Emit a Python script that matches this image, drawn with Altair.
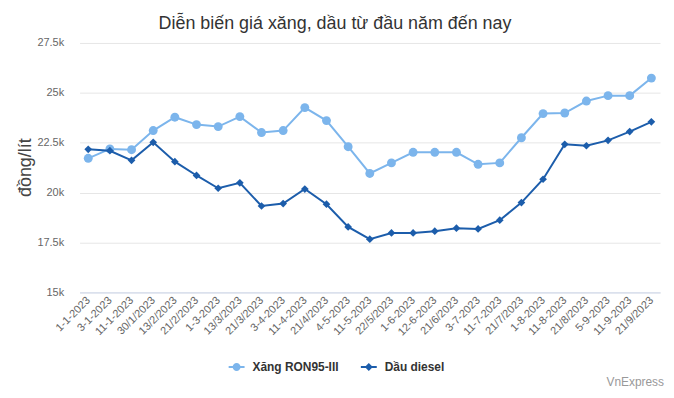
import altair as alt
import pandas as pd

dates = ["1-1-2023", "3-1-2023", "11-1-2023", "30/1/2023", "13/2/2023", "21/2/2023",
         "1-3-2023", "13/3/2023", "21/3/2023", "3-4-2023", "11-4-2023", "21/4/2023",
         "4-5-2023", "11-5-2023", "22/5/2023", "1-6-2023", "12-6-2023", "21/6/2023",
         "3-7-2023", "11-7-2023", "21/7/2023", "1-8-2023", "11-8-2023", "21/8/2023",
         "5-9-2023", "11-9-2023", "21/9/2023"]
ron95 = [21720, 22190, 22150, 23110, 23780, 23410, 23310, 23810, 23010, 23110, 24260, 23610,
         22300, 20960, 21490, 22020, 22020, 22020, 21420, 21490, 22750, 23960, 23990, 24590,
         24860, 24860, 25740]
diesel = [22170, 22100, 21620, 22520, 21550, 20860, 20220, 20490, 19330, 19450, 20180, 19420,
          18280, 17670, 17980, 17980, 18070, 18220, 18180, 18620, 19500, 20670, 22420, 22350,
          22620, 23060, 23550]
series_names = ["Xăng RON95-III", "Dầu diesel"]
series_colors = ["#7cb5ec", "#1c5dab"]
y_ticks = [15000, 17500, 20000, 22500, 25000, 27500]
title_text = "Diễn biến giá xăng, dầu từ đầu năm đến nay"
credit_text = "VnExpress"

rows = []
for d, a, b in zip(dates, ron95, diesel):
    rows.append({"date": d, "series": series_names[0], "price": a})
    rows.append({"date": d, "series": series_names[1], "price": b})
df = pd.DataFrame(rows)

FONT = "Liberation Sans"

x_enc = alt.X("date:N", sort=dates, scale=alt.Scale(padding=0.4),
              axis=alt.Axis(title=None, labelAngle=-45, labelAlign="right", labelBaseline="middle",
                            labelFontSize=11, labelColor="#666666", labelPadding=6,
                            ticks=False, domainColor="#ccd6eb", grid=False, labelFont=FONT))
y_enc = alt.Y("price:Q", scale=alt.Scale(domain=[15000, 27500], nice=False),
              axis=alt.Axis(values=y_ticks, labelExpr="datum.value/1000 + 'k'",
                            title="đồng/lít", titleFontSize=18, titleFontWeight="normal",
                            titleColor="#444444", titleFont=FONT, titleAngle=-90,
                            titleX=-54, titleY=125, titleAlign="center", titleBaseline="middle",
                            labelFontSize=11, labelColor="#666666", labelPadding=16, labelFont=FONT,
                            ticks=False, domain=False, gridColor="#e6e6e6"))

base = alt.Chart(df)
layers = []
shapes = ["circle", "diamond"]
sizes = [80, 60]
for name, col, shp, sz in zip(series_names, series_colors, shapes, sizes):
    sub = base.transform_filter(alt.datum.series == name)
    layers.append(sub.mark_line(color=col, strokeWidth=2).encode(x=x_enc, y=y_enc))
    layers.append(sub.mark_point(color=col, filled=True, opacity=1, shape=shp, size=sz)
                  .encode(x=x_enc, y=y_enc))

circle_path = "M-2,-0.25L2,-0.25L2,0.25L-2,0.25Z M-1,0A1,1,0,1,1,1,0A1,1,0,1,1,-1,0Z"
diamond_path = "M-2,-0.25L2,-0.25L2,0.25L-2,0.25Z M0,-1L1,0L0,1L-1,0Z"
leg = dict(title=None, orient="none", legendX=152, legendY=320,
           direction="horizontal", symbolOpacity=1, symbolStrokeWidth=0,
           labelFontSize=12, labelFontWeight="bold", labelColor="#333333",
           labelFont=FONT, labelOffset=10, columnPadding=22, symbolSize=64)
legend_layer = base.mark_point(filled=True, opacity=0, size=64).encode(
    x=x_enc, y=y_enc,
    color=alt.Color("series:N", scale=alt.Scale(domain=series_names, range=series_colors),
                    legend=alt.Legend(**leg)),
    shape=alt.Shape("series:N", scale=alt.Scale(domain=series_names, range=[circle_path, diamond_path]),
                    legend=alt.Legend(**leg)),
)

credit = alt.Chart(alt.Data(values=[{"t": credit_text}])).mark_text(
    align="right", baseline="middle", fontSize=12, color="#999999", font=FONT
).encode(text="t:N", x=alt.value(588), y=alt.value(341))

title = alt.Chart(alt.Data(values=[{"t": title_text}])).mark_text(
    align="center", baseline="alphabetic", fontSize=18, color="#333333", font=FONT
).encode(text="t:N", x=alt.value(257), y=alt.value(-14))

chart = alt.layer(*layers, legend_layer, credit, title).properties(
    width=584, height=251,
    autosize=alt.AutoSizeParams(type="none"),
    padding={"left": 72, "top": 34, "right": 6, "bottom": 96},
).configure_view(stroke=None)

chart.save("out.html", embed_options={"renderer": "svg", "actions": False})
